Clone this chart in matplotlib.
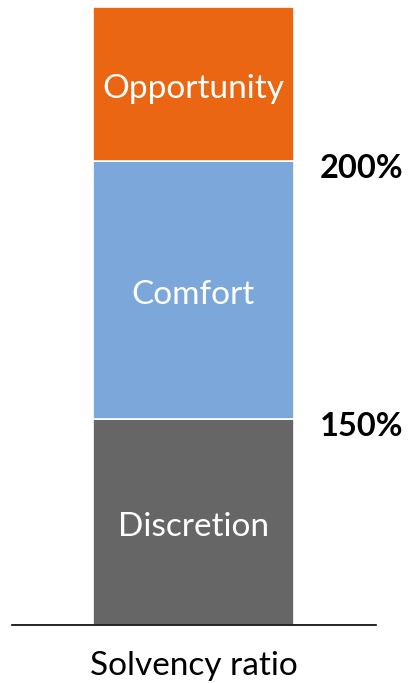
import matplotlib.pyplot as plt

# segment data (bottom to top)
segments = ["Discretion", "Comfort", "Opportunity"]
heights = [206, 258, 154]
colors = ["#666666", "#7BA7DA", "#EA6612"]
thresholds = ["150%", "200%"]
category = "Solvency ratio"

plt.rcParams["font.family"] = ["Lato", "DejaVu Sans"]

fig = plt.figure(figsize=(4.10, 6.83), dpi=100)
ax = fig.add_axes([12 / 410, 58 / 683, 364 / 410, 618 / 683])

bottom = 0
for name, h, c in zip(segments, heights, colors):
    ax.bar(0, h, width=1.0, bottom=bottom, color=c, edgecolor="white", linewidth=1.2)
    ax.text(0, bottom + h / 2 - 5, name, color="white", fontsize=24,
            ha="center", va="center")
    bottom += h

# threshold labels at segment boundaries
b = 0
for lab, h in zip(thresholds, heights[:2]):
    b += h
    ax.text(0.63, b - 8, lab, fontsize=23.5, fontweight="bold", ha="left", va="center")

ax.set_xlim(-0.903, 0.908)
ax.set_ylim(0, sum(heights))
for s in ["top", "right", "left"]:
    ax.spines[s].set_visible(False)
ax.spines["bottom"].set_linewidth(1.2)
ax.set_yticks([])
ax.set_xticks([0])
ax.set_xticklabels([category], fontsize=24)
ax.tick_params(axis="x", length=0, pad=19)

fig.savefig("out.png", dpi=100)
